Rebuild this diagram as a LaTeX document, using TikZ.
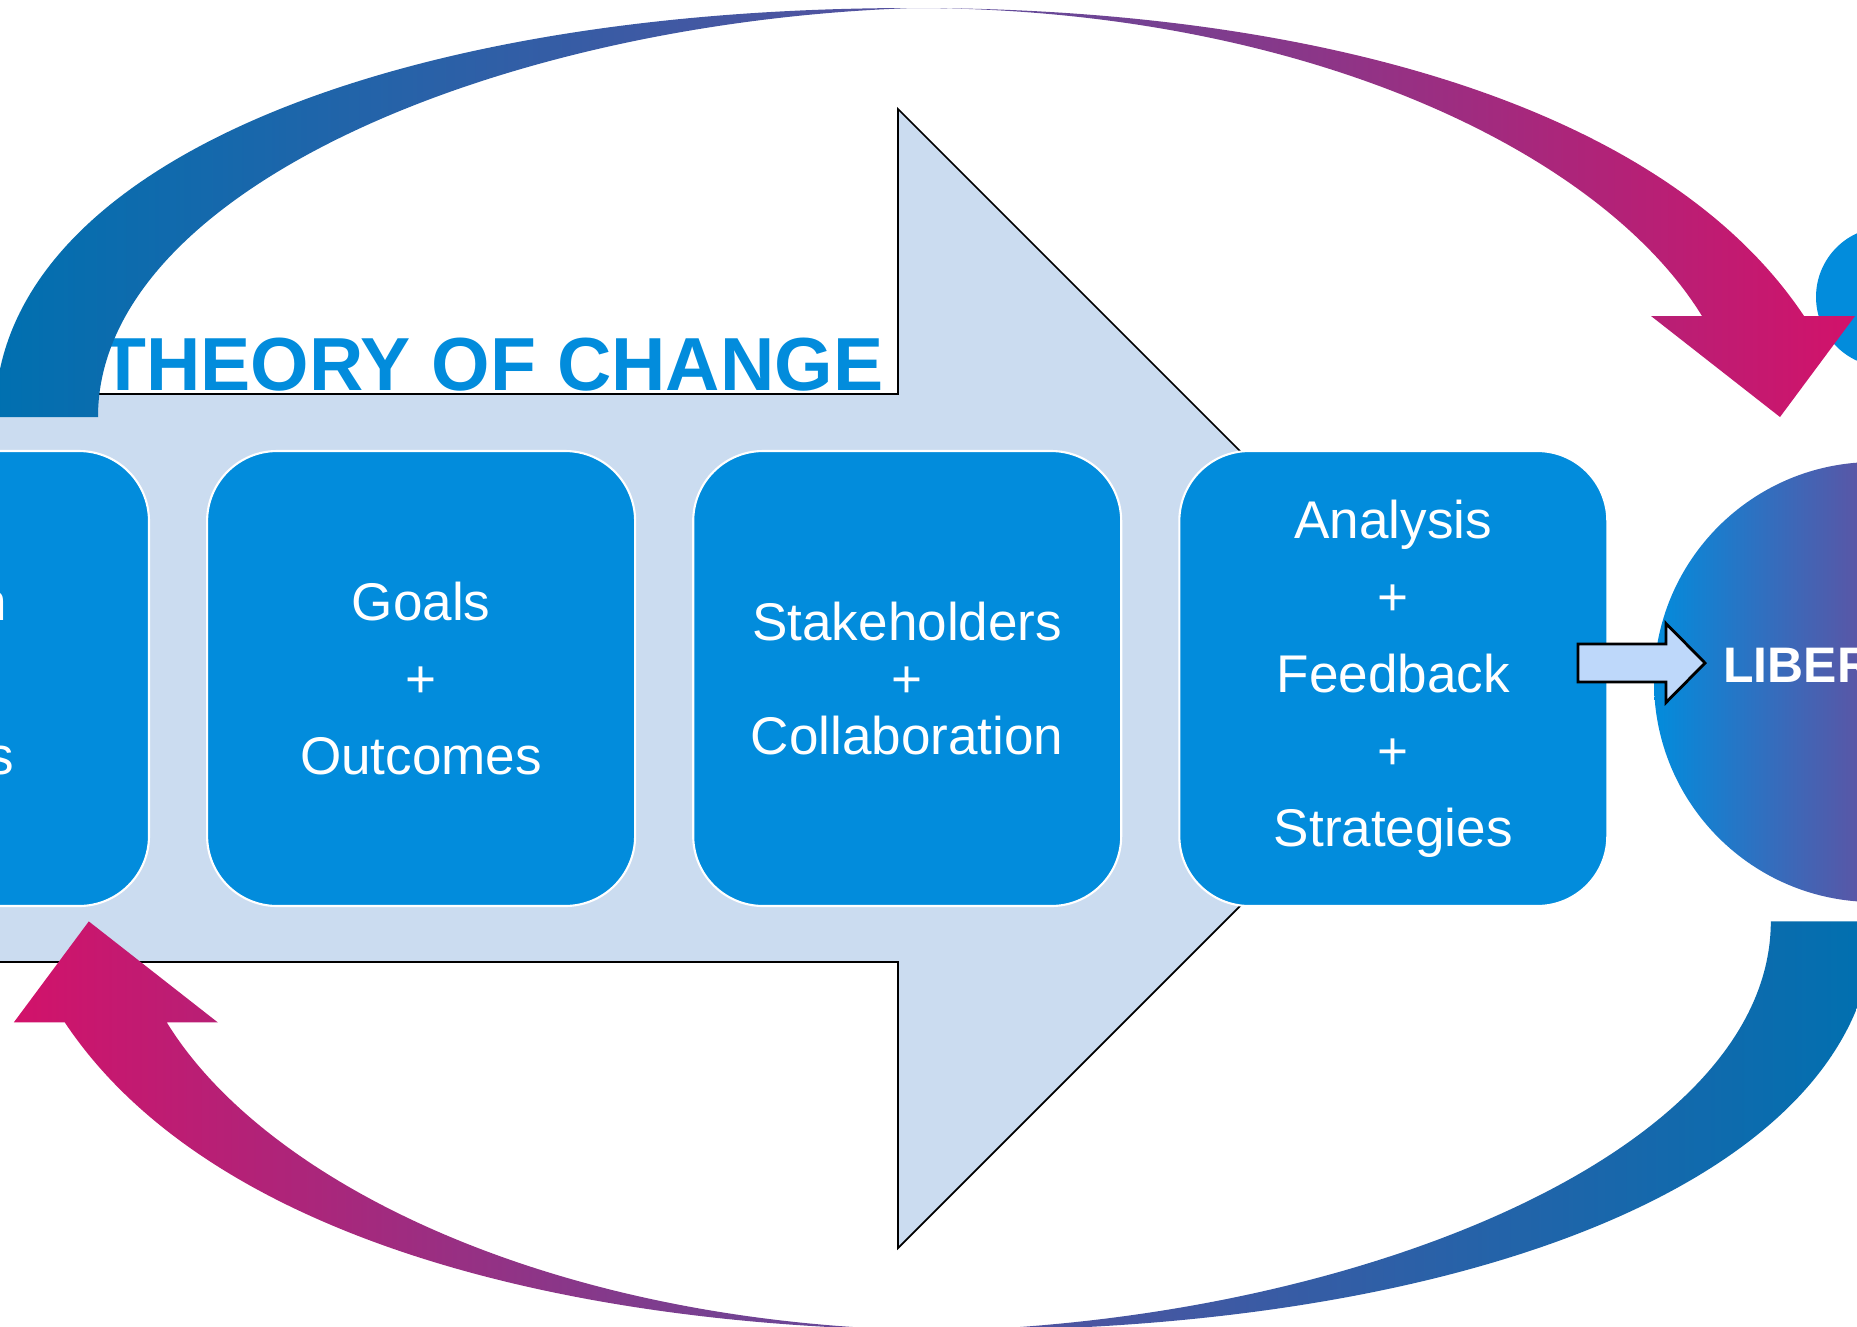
\documentclass[tikz,border=0pt]{standalone}
\usepackage{fontspec}
\setmainfont{Liberation Sans}
\usetikzlibrary{positioning}

\definecolor{boxblue}{RGB}{2,140,220}
\definecolor{paleblue}{RGB}{203,220,240}
\definecolor{tipblue}{RGB}{190,216,250}
\definecolor{arcblue}{RGB}{0,112,176}
\definecolor{arcviolet}{RGB}{88,80,158}
\definecolor{arcrose}{RGB}{210,18,106}
\definecolor{libviolet}{RGB}{96,82,162}

\tikzset{
  stagebox/.style={draw=white, line width=0.6pt, fill=boxblue, rounded corners=7mm,
    minimum width=42.8mm, minimum height=45.5mm, text=white, align=center,
    font=\fontsize{15.1}{21.9}\selectfont},
  loopshade/.style={left color=arcblue, right color=arcrose, middle color=arcviolet},
  loopshadeback/.style={left color=arcrose, right color=arcblue, middle color=arcviolet},
}

\begin{document}
\begin{tikzpicture}[x=0.1mm, y=-0.1mm]
    \path[use as bounding box] (0,0) rectangle (1857,1326);
    \clip (0,0) rectangle (1857,1326);

    % Big pale arrow behind the stages
    \draw[fill=paleblue, line width=0.5pt] (-300,394) -- (898,394) -- (898,109)
        -- (1467.5,678.5) -- (898,1248) -- (898,962) -- (-300,962) -- cycle;

    % Stage boxes
    \node[stagebox] (vision) at (-65,678.5) {Vision\\+\\Values};
    \node[stagebox, right=5.6mm of vision] (goals) {Goals\\+\\Outcomes};
    \node[stagebox, right=5.6mm of goals, font=\fontsize{15.1}{16.2}\selectfont] (partners)
        {Stakeholders\\+\\Collaboration};
    \node[stagebox, right=5.6mm of partners] (review) {Analysis\\+\\Feedback\\+\\Strategies};

    % Goal circle and the small one above it
    \node[circle, minimum size=44mm, left color=boxblue, right color=arcrose,
        middle color=libviolet] (freedom) at (1874,682) {};
    \node[text=white, font=\bfseries\fontsize{14.2}{17}\selectfont] (freedomtext)
        at (1874,665) {LIBERATION};
    \node[circle, minimum size=14mm, fill=boxblue] (start) at (1886,297) {};

    % Small arrow into the goal circle
    \draw[fill=tipblue, line width=0.8pt] (1578,644) -- (1666,644) -- (1666,623.5)
        -- (1705,663) -- (1666,702.5) -- (1666,682) -- (1578,682) -- cycle;

    % Heading
    \node[anchor=base east, inner sep=0pt, text=boxblue,
        font=\bfseries\fontsize{21.4}{25}\selectfont] (title) at (884,390) {THEORY OF CHANGE};

    % Upper loop arrow
    \shade[loopshade] (-5,417) .. controls (-5,170) and (380,8) .. (913,8)
        .. controls (1300,8) and (1660,100) .. (1804,316)
        -- (1855,316) -- (1780,417) -- (1651,316) -- (1702,316)
        .. controls (1600,150) and (1300,8) .. (913,8)
        .. controls (500,22) and (98,190) .. (98,417) -- cycle;

    % Lower loop arrow
    \shade[loopshadeback] (1873.8,921.4) .. controls (1873.8,1168.4) and (1488.8,1330.4) .. (955.8,1330.4)
        .. controls (568.8,1330.4) and (208.8,1238.4) .. (64.8,1022.4)
        -- (13.8,1022.4) -- (88.8,921.4) -- (217.8,1022.4) -- (166.8,1022.4)
        .. controls (268.8,1188.4) and (568.8,1330.4) .. (955.8,1330.4)
        .. controls (1368.8,1316.4) and (1770.8,1148.4) .. (1770.8,921.4) -- cycle;
\end{tikzpicture}
\end{document}
